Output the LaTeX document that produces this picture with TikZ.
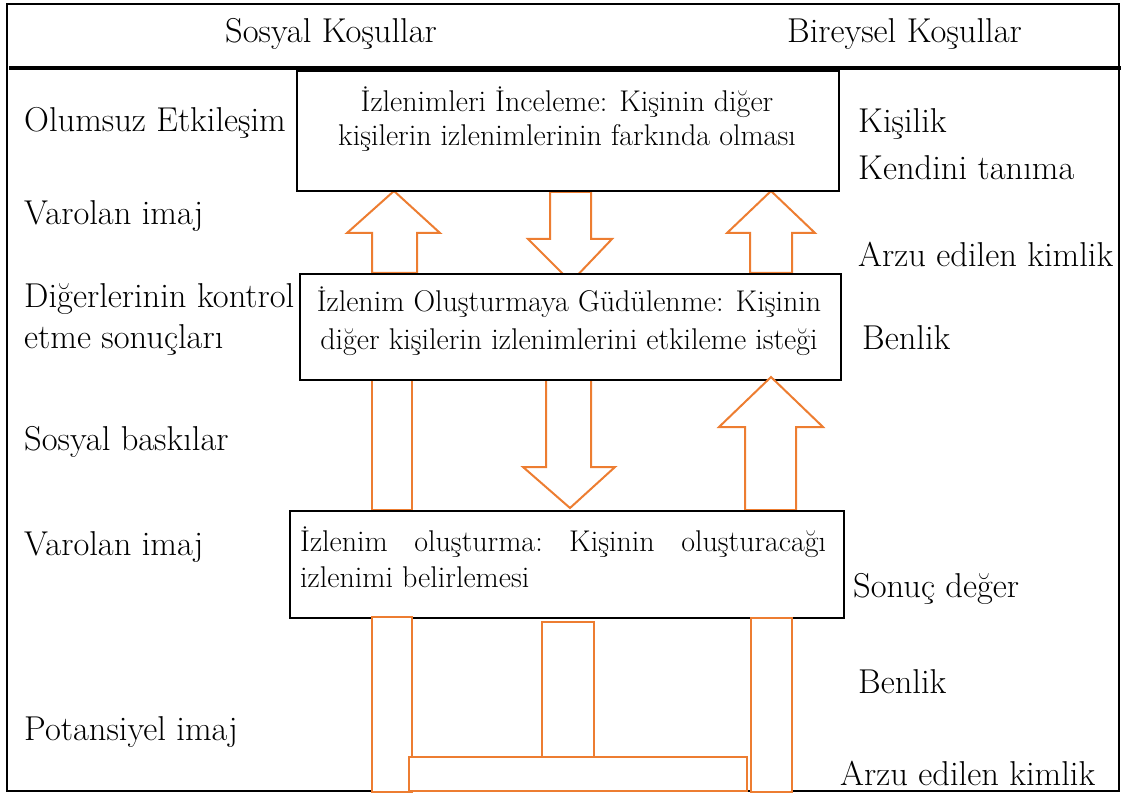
\documentclass[tikz,border=0pt]{standalone}
\usepackage{fontspec}
\definecolor{org}{RGB}{237,125,49}
\begin{document}
\begin{tikzpicture}[x=1pt,y=-1pt,
  lbl/.style={font=\fontsize{34.5}{40}\selectfont, anchor=base west, inner sep=0pt},
  btxt/.style={font=\fontsize{30}{36}\selectfont, anchor=base, inner sep=0pt},
  blk/.style={draw=org, line width=2pt, fill=white, line join=miter},
  bx/.style={draw=black, line width=2pt, fill=white, anchor=north west, inner sep=0pt}]
\useasboundingbox (0,0) rectangle (1129,794);
% frame
\draw[line width=2pt] (7,4) rectangle (1119,791);
\draw[line width=4pt] (9,68) -- (1121,68);
% header
\node[lbl] (h1) at (225,43) {Sosyal Koşullar};
\node[lbl] (h2) at (787,43) {Bireysel Koşullar};
% upper arrows
\draw[blk] (372,273) -- (372,233) -- (347,233) -- (394,191) -- (440,233) -- (417,233) -- (417,273) -- cycle;
\draw[blk] (550,192) -- (591,192) -- (591,239) -- (612,239) -- (571,282) -- (528,239) -- (550,239) -- cycle;
\draw[blk] (750,273) -- (750,233) -- (727,233) -- (771,191) -- (815,233) -- (792,233) -- (792,273) -- cycle;
% lower arrows
\draw[blk] (372,377) rectangle (412,510);
\draw[blk] (546,379) -- (591,379) -- (591,467) -- (615,467) -- (570,508) -- (523,467) -- (546,467) -- cycle;
% boxes
\node[bx, minimum width=542pt, minimum height=120pt] (b1) at (296,70) {};
\node[bx, minimum width=541pt, minimum height=106pt] (b2) at (299,273) {};
\draw[blk] (745,510) -- (745,427) -- (719,427) -- (771,377) -- (823,427) -- (796,427) -- (796,510) -- cycle;
\node[bx, minimum width=554pt, minimum height=107pt] (b3) at (289,510) {};
% bottom bars
\draw[blk] (372,617) rectangle (412,792);
\draw[blk] (751,618) rectangle (792,792);
\draw[blk] (542,622) rectangle (594,757);
\draw[blk] (409,757) rectangle (747,791);
% box texts
\node[btxt] (t1a) at (567,112) {İzlenimleri İnceleme: Kişinin diğer};
\node[btxt] (t1b) at (567,146) {kişilerin izlenimlerinin farkında olması};
\node[btxt] (t2a) at (569,311) {İzlenim Oluşturmaya Güdülenme: Kişinin};
\node[btxt] (t2b) at (569,349) {diğer kişilerin izlenimlerini etkileme isteği};
\node[btxt, anchor=base west] (t3a) at (300,551) {\hbox to 526pt{İzlenim\hfill oluşturma:\hfill Kişinin\hfill oluşturacağı}};
\node[btxt, anchor=base west] (t3b) at (300,587) {izlenimi belirlemesi};
% left labels
\node[lbl] (l1) at (24,132) {Olumsuz Etkileşim};
\node[lbl] (l2) at (24,225) {Varolan imaj};
\node[lbl] (l3) at (24,307) {Diğerlerinin kontrol};
\node[lbl] (l4) at (24,348) {etme sonuçları};
\node[lbl] (l5) at (24,450) {Sosyal baskılar};
\node[lbl] (l6) at (24,555) {Varolan imaj};
\node[lbl] (l7) at (24,740) {Potansiyel imaj};
% right labels
\node[lbl] (r1) at (858,133) {Kişilik};
\node[lbl] (r2) at (858,180) {Kendini tanıma};
\node[lbl] (r3) at (858,266) {Arzu edilen kimlik};
\node[lbl] (r4) at (862,349) {Benlik};
\node[lbl] (r5) at (853,597) {Sonuç değer};
\node[lbl] (r6) at (858,693) {Benlik};
\node[lbl] (r7) at (840,785) {Arzu edilen kimlik};
\end{tikzpicture}
\end{document}
